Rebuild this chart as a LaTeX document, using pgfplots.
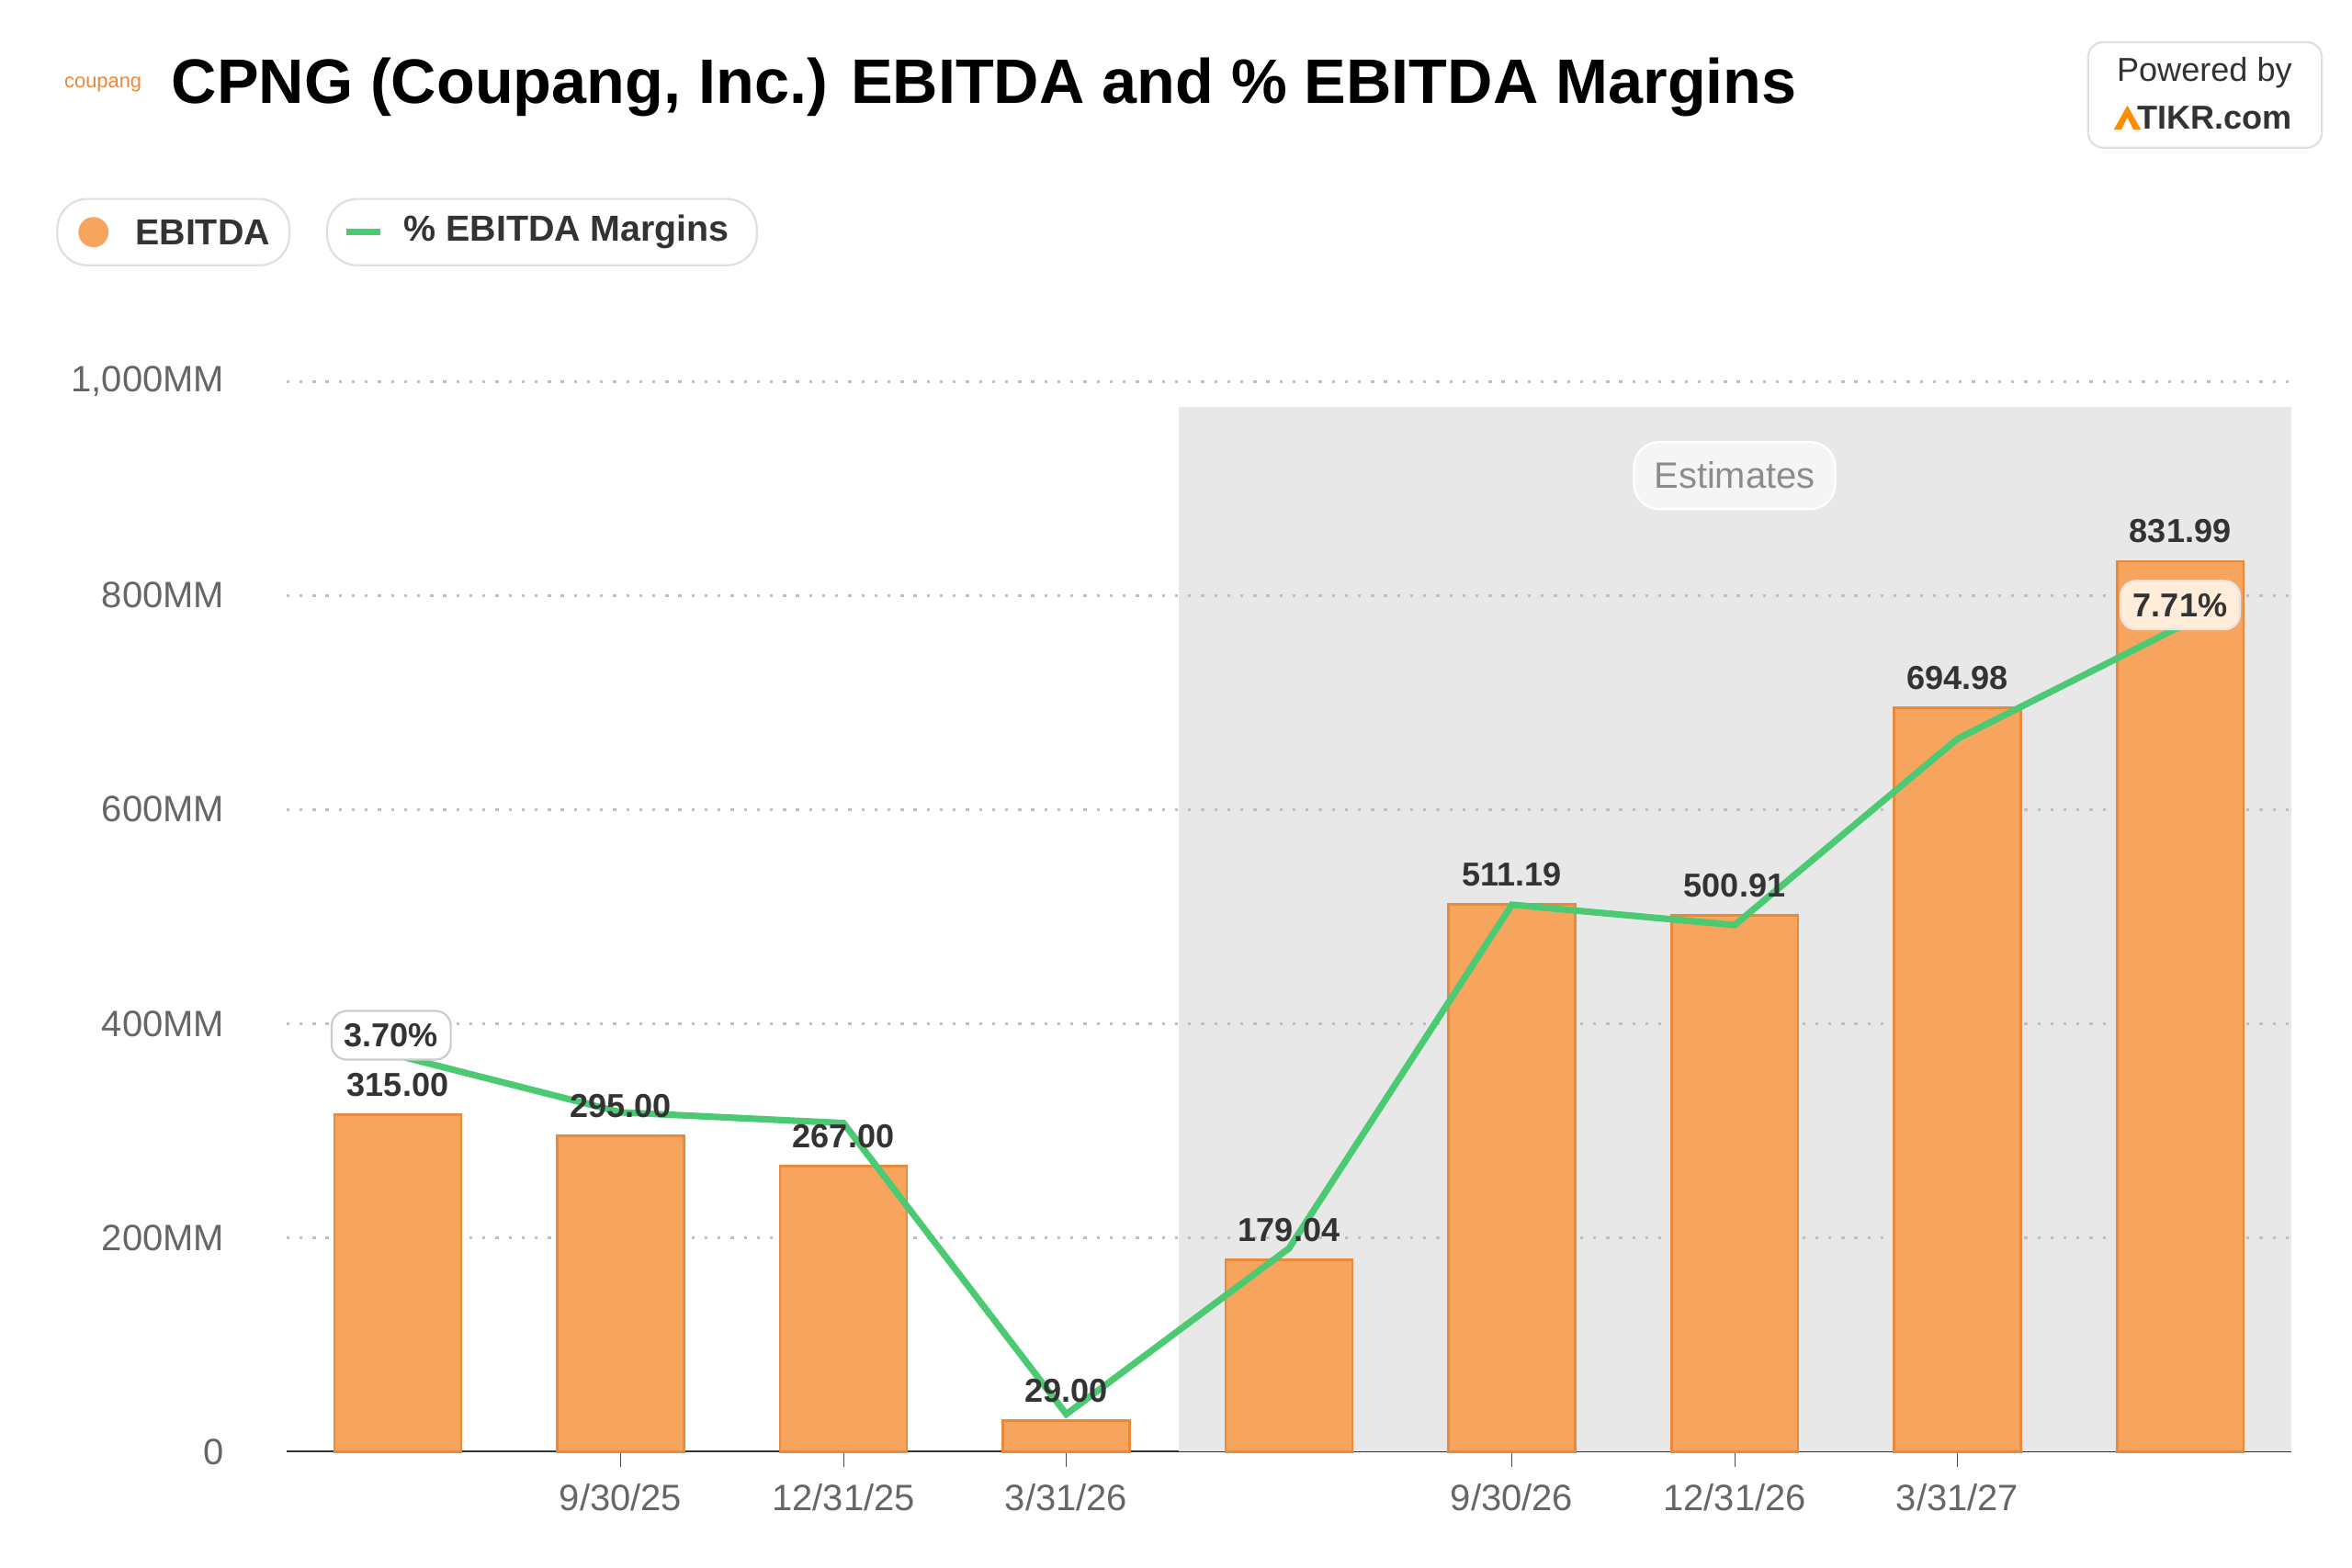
\documentclass[border=0pt]{standalone}
\usepackage{pgfplots}
\pgfplotsset{compat=1.18}
\usepackage{fontspec}
\setmainfont{Liberation Sans}
\definecolor{barf}{HTML}{F7A55E}
\definecolor{bard}{HTML}{E8893C}
\definecolor{lineg}{HTML}{4CC973}
\definecolor{txt}{HTML}{333333}
\begin{document}
\begin{tikzpicture}[x=0.3pt,y=0.3pt]
\useasboundingbox (0,0) rectangle (1560,1040);
\fill[white] (0,0) rectangle (1560,1040);
% title
\node[anchor=west,font=\fontsize{4}{4}\selectfont,text=bard] at (31,984) {coupang};
\node[anchor=west,font=\bfseries\fontsize{12.5}{14}\selectfont] at (102,982) {CPNG (Coupang, Inc.) EBITDA and \% EBITDA Margins};
\draw[gray!25,fill=white,rounded corners=3pt] (1385,1012) rectangle (1540,942);
\node[anchor=east,font=\fontsize{6.6}{7}\selectfont,text=txt] at (1532,992) {Powered by};
\node[anchor=east,font=\bfseries\fontsize{6.6}{7}\selectfont,text=txt] at (1532,962) {TIKR.com};
\fill[orange!90!yellow] (1402,954) -- (1411,970) -- (1420,954) -- (1415,954) -- (1411,962) -- (1407,954) -- cycle;
% legend
\draw[gray!25,fill=white,rounded corners=6pt] (38,908) rectangle (192,864);
\fill[barf] (62,886) circle (10);
\node[anchor=west,font=\bfseries\fontsize{7.2}{8}\selectfont,text=txt] at (78,886) {EBITDA};
\draw[gray!25,fill=white,rounded corners=6pt] (217,908) rectangle (502,864);
\draw[lineg,line width=1.2pt] (230,886) -- (252,886);
\node[anchor=west,font=\bfseries\fontsize{7.2}{8}\selectfont,text=txt] at (256,886) {\% EBITDA Margins};
\begin{axis}[
  at={(57pt,23.1pt)}, anchor=south west, scale only axis,
  width=399pt, height=213pt,
  xmin=-0.5, xmax=8.5, ymin=0, ymax=1000,
  axis x line*=bottom, axis y line=none,
  x axis line style={black!80,-},
  xtick={1,2,3,5,6,7}, xticklabels={9/30/25,12/31/25,3/31/26,9/30/26,12/31/26,3/31/27},
  xticklabel style={font=\fontsize{7.3}{8}\selectfont,text=black!60},
  tick style={black!70}, major tick length=3pt, tick align=outside,
  clip=false,
]
\fill[black!9] (axis cs:3.506,0) rectangle (axis cs:8.5,976);
\foreach \v in {200,400,600,800,1000}{
  \edef\tmp{\noexpand\draw[black!25,dotted,line width=0.6pt] (axis cs:-0.5,\v) -- (axis cs:8.5,\v);}\tmp
}
\foreach \v/\l in {0/0,200/200MM,400/400MM,600/600MM,800/800MM,1000/{1,000MM}}{
  \edef\tmp{\noexpand\node[anchor=east,font=\noexpand\fontsize{7.3}{8}\noexpand\selectfont,text=black!60] at (axis cs:-0.7,\v) {\l};}\tmp
}
\node[draw=white,fill=white!96!black,rounded corners=5pt,font=\fontsize{7.3}{8}\selectfont,text=black!45,inner sep=4pt] at (axis cs:6,912) {Estimates};
\addplot[ybar, bar width=25.2pt, fill=barf, draw=bard, line width=0.5pt,
  nodes near coords, point meta=explicit symbolic,
  every node near coord/.append style={font=\bfseries\fontsize{6.6}{7}\selectfont,text=txt}]
  coordinates {(0,315)[315.00] (1,295)[295.00] (2,267)[267.00] (3,29)[29.00] (4,179.04)[179.04] (5,511.19)[511.19] (6,500.91)[500.91] (7,694.98)[694.98] (8,831.99)[831.99]};
\addplot[lineg, line width=1.3pt, mark=none]
  coordinates {(0,370) (1,317) (2,307) (3,35) (4,190) (5,511) (6,492) (7,666) (8,771)};
\node[draw=black!20,fill=white,rounded corners=3pt,font=\bfseries\fontsize{6.6}{7}\selectfont,text=txt,inner sep=2.5pt] at (axis cs:-0.03,389) {3.70\%};
\node[draw=black!10,fill=orange!15,rounded corners=3pt,font=\bfseries\fontsize{6.6}{7}\selectfont,text=txt,inner sep=2.5pt] at (axis cs:8,791) {7.71\%};
\end{axis}
\end{tikzpicture}
\end{document}
